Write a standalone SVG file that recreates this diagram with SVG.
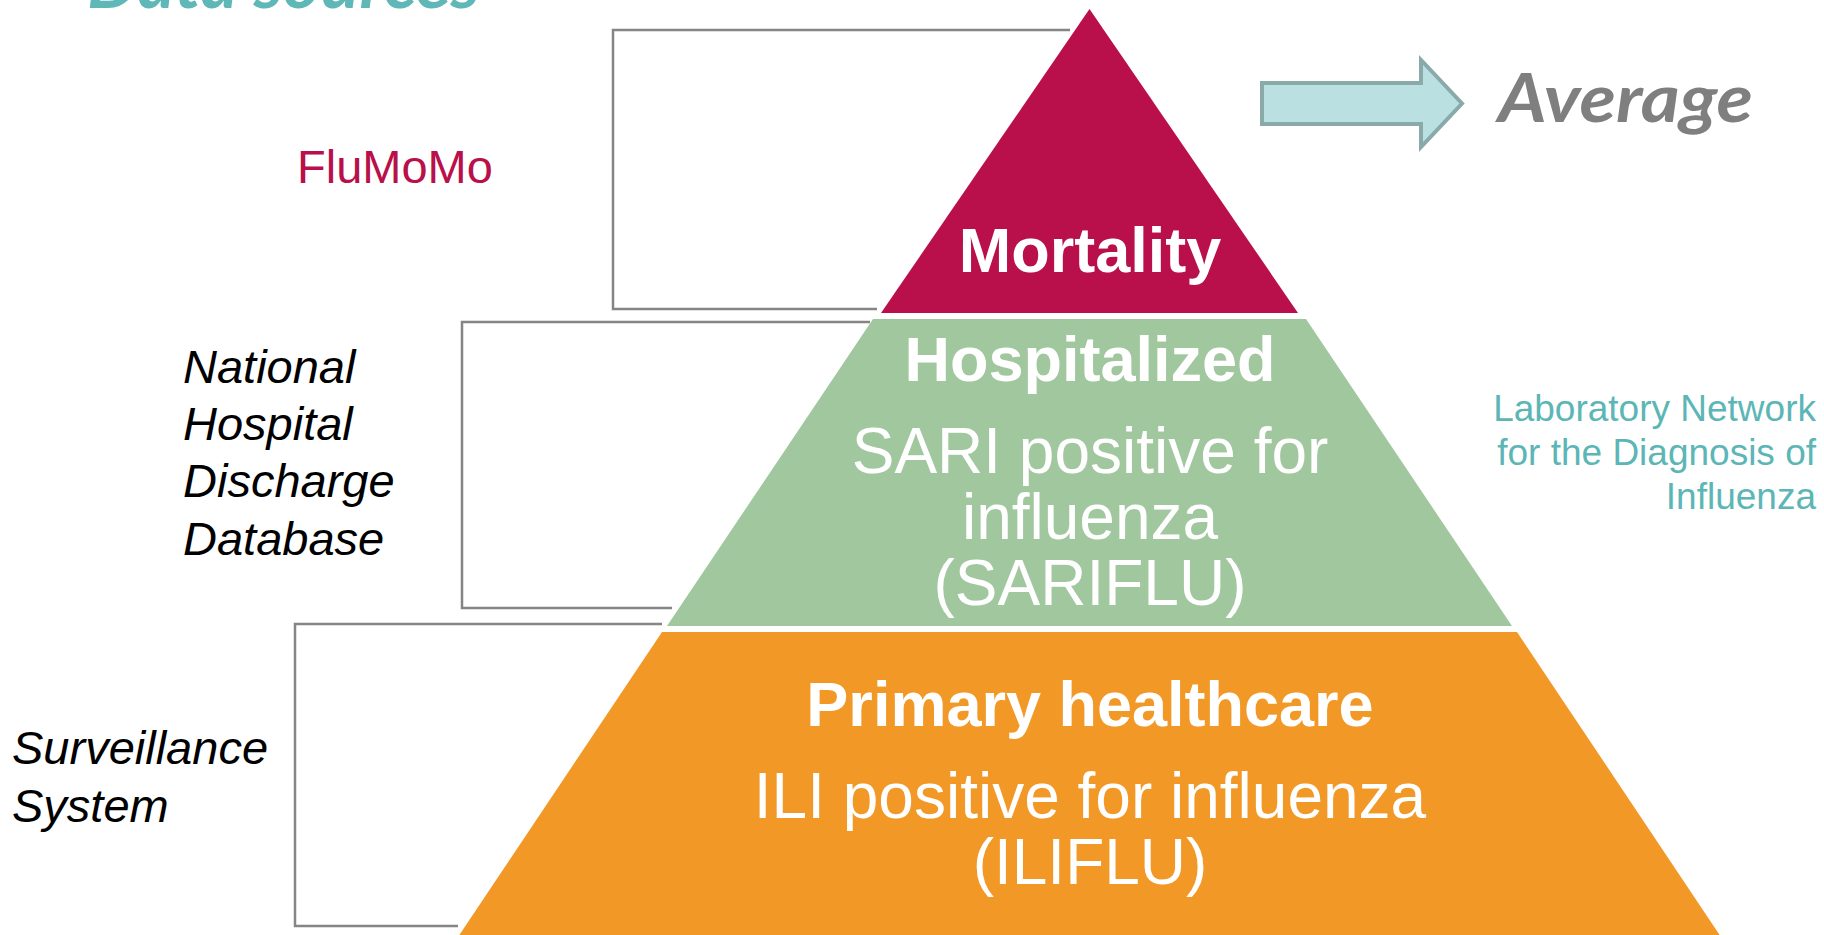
<svg xmlns="http://www.w3.org/2000/svg" width="1824" height="935" viewBox="0 0 1824 935">
  <style>
    .bracket { fill: none; stroke: #858585; stroke-width: 2.5; }
    .lvl { stroke: none; }
    .inB { font-family: "Liberation Sans", Arial, sans-serif; font-weight: bold; font-size: 63px; fill: #ffffff; text-anchor: middle; }
    .inR { font-family: "Liberation Sans", Arial, sans-serif; font-size: 64px; fill: #ffffff; text-anchor: middle; }
    .side { font-family: "Liberation Sans", Arial, sans-serif; font-style: italic; font-size: 47px; fill: #000000; }
    .lab { font-family: "Liberation Sans", Arial, sans-serif; font-size: 37px; fill: #5cb6b6; text-anchor: end; }
    .cal { font-family: Lato, "Open Sans", sans-serif; font-weight: bold; font-style: italic; }
  </style>
  <rect width="1824" height="935" fill="#ffffff"/>

  <g id="title">
    <text class="cal" x="87" y="8" font-size="68" fill="#5fb7b7" textLength="393" lengthAdjust="spacingAndGlyphs">Data sources</text>
  </g>

  <g id="connectors">
    <path class="bracket" d="M1070 30 H613 V309 H877"/>
    <path class="bracket" d="M870 322 H462 V608 H672"/>
    <path class="bracket" d="M662 624 H295 V926 H458"/>
  </g>

  <g id="mortality">
    <polygon class="lvl" fill="#b90f4a" points="1089.5,9 1298,313 881,313"/>
    <text class="inB" x="1090" y="272">Mortality</text>
  </g>

  <g id="hospitalized">
    <polygon class="lvl" fill="#a1c79f" points="873,319 1306,319 1512,626 667,626"/>
    <text class="inB" x="1090" y="381">Hospitalized</text>
    <text class="inR" x="1090" y="473">SARI positive for</text>
    <text class="inR" x="1090" y="539">influenza</text>
    <text class="inR" x="1090" y="605">(SARIFLU)</text>
  </g>

  <g id="primary">
    <polygon class="lvl" fill="#f29826" points="662,632 1517,632 1723,940 456,940"/>
    <text class="inB" x="1090" y="726">Primary healthcare</text>
    <text class="inR" x="1090" y="818">ILI positive for influenza</text>
    <text class="inR" x="1090" y="884">(ILIFLU)</text>
  </g>

  <g id="flumomo">
    <text x="297" y="183" font-family="Liberation Sans, Arial, sans-serif" font-size="47" fill="#b90f4a">FluMoMo</text>
  </g>

  <g id="nhdd">
    <text class="side" x="183" y="383">National</text>
    <text class="side" x="183" y="440">Hospital</text>
    <text class="side" x="183" y="497">Discharge</text>
    <text class="side" x="183" y="555">Database</text>
  </g>

  <g id="surveillance">
    <text class="side" x="12" y="764">Surveillance</text>
    <text class="side" x="12" y="822">System</text>
  </g>

  <g id="lab-network">
    <text class="lab" x="1816" y="421">Laboratory Network</text>
    <text class="lab" x="1816" y="465">for the Diagnosis of</text>
    <text class="lab" x="1816" y="509">Influenza</text>
  </g>

  <g id="arrow">
    <polygon points="1262,83 1421,83 1421,60 1462,103.5 1421,147 1421,124 1262,124" fill="#bbe0e2" stroke="#8aa9a9" stroke-width="4"/>
  </g>

  <g id="average">
    <text class="cal" x="1498" y="122" font-size="66" fill="#7f7f7f" textLength="255" lengthAdjust="spacingAndGlyphs">Average</text>
  </g>
</svg>
